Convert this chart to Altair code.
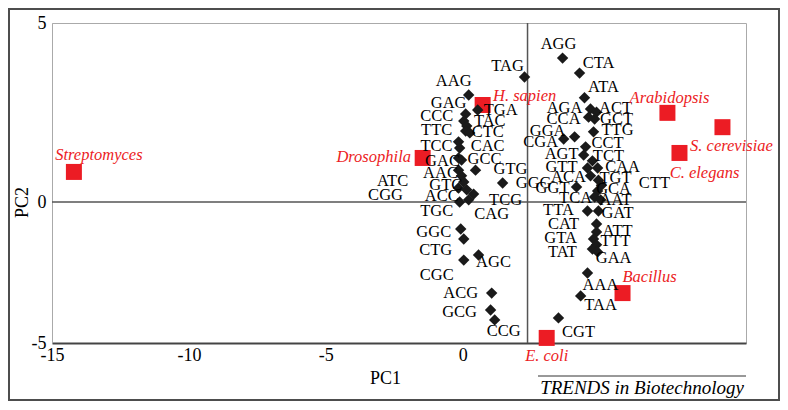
import altair as alt
import pandas as pd

# ---------------- data ----------------
codons = ["AAG", "TAG", "GAG", "TGA", "CCC", "TAC", "TTC", "CTC", "CAC", "TCC",
          "GCC", "GAC", "GTG", "AAC", "ATC", "GTC", "GGG", "CGG", "ACC", "TCG",
          "TGC", "CAG", "GGC", "CTG", "AGC", "CGC", "ACG", "GCG", "CCG",
          "AGG", "CTA", "ATA", "AGA", "ACT", "CCA", "GCT", "GGA", "TTG", "CGA",
          "CCT", "AGT", "TCT", "GTT", "CAA", "ACA", "TGT", "CTT", "GGT", "GCA",
          "TCA", "AAT", "TTA", "GAT", "CAT", "ATT", "GTA", "TTT", "TAT", "GAA",
          "AAA", "TAA", "CGT"]
pc1 = [0.22, 2.26, 0.11, 0.55, 0.04, 0.15, 0.11, 0.26, -0.11, -0.15,
       -0.04, -0.15, 0.47, -0.15, -0.04, 0.04, 1.46, -0.15, 0.15, 0.40,
       -0.11, 0.22, -0.07, 0.04, 0.58, 0.04, 1.06, 1.02, 1.17,
       3.65, 4.27, 4.45, 4.67, 4.89, 4.60, 4.82, 4.09, 4.78, 3.69,
       4.49, 4.42, 4.74, 4.56, 4.93, 4.67, 4.96, 5.07, 4.16, 4.93,
       4.82, 5.04, 4.56, 4.96, 4.89, 4.89, 4.78, 4.89, 4.74, 4.93,
       4.56, 4.31, 3.50]
pc2 = [2.99, 3.49, 2.46, 2.57, 2.26, 2.12, 1.98, 1.93, 1.51, 1.68,
       1.17, 1.23, 0.89, 0.89, 0.73, 0.56, 0.53, 0.39, 0.34, 0.22,
       0.00, 0.06, -0.96, -1.31, -1.88, -2.06, -3.23, -3.83, -4.18,
       4.02, 3.60, 2.91, 2.60, 2.51, 2.37, 2.32, 1.82, 1.96, 1.76,
       1.54, 1.31, 1.15, 0.95, 0.95, 0.73, 0.61, 0.47, 0.42, 0.31,
       0.14, 0.06, -0.32, -0.32, -0.78, -1.06, -1.31, -1.52, -1.67, -1.77,
       -2.52, -3.33, -4.11]
# label offsets from each marker (pixels)
lab_dx = [-15, -17, -17, 23, -27, 23, -29, 18, 28, -22,
          23, -16, 35, -18, -69, -18, 31, -73, -25, 32,
          -23, 23, -27, -28, 15, -27, -31, -31, 9,
          -4, 19, 19, -26, 19, -25, 22, -27, 24, -23,
          22, -22, 16, -26, 25, -22, 17, 53, -24, 16,
          -19, 15, -29, 19, -33, 21, -33, 19, -30, 16,
          13, 20, 20]
lab_dy = [-14, -11, -11, 0, -5, -5, -1, -1, -2, 4,
          -1, 3, -1, 3, 5, 3, 0, 7, 6, 6,
          9, 14, 3, 11, 7, 15, 0, 2, 11,
          -14, -10, -11, -1, -4, 2, 0, -6, -2, 3,
          -4, -1, -5, -1, -1, 1, -2, -2, 1, -2,
          1, 0, -1, 2, 0, -1, -1, -4, 3, 6,
          12, 9, 14]

species = ["Streptomyces", "Drosophila", "H. sapien", "Arabidopsis",
           "S. cerevisiae", "C. elegans", "Bacillus", "E. coli"]
sp_pc1 = [-14.20, -1.46, 0.73, 7.48, 9.49, 7.92, 5.84, 3.07]
sp_pc2 = [0.84, 1.23, 2.71, 2.49, 2.09, 1.37, -3.23, -4.82]
sp_dx = [25, -49, 42, 2, 9, 25, 27, 0]
sp_dy = [-17, -1, -9, -15, 19, 20, -16, 18]

x_ticks = [-15, -10, -5, 0]
y_ticks = [-5, 0, 5]
divider_pc1 = 2.37

# ---------------- scales / layout ----------------
W, H = 694, 320
X_DOMAIN = [-15, 10.35]
Y_DOMAIN = [-5, 0, 5]
Y_RANGE = [320, 179, 0]
FONT = "Liberation Serif, Times New Roman, Times, serif"
RED = "#ec1c24"


def x_px(v):
    return (v - X_DOMAIN[0]) / (X_DOMAIN[1] - X_DOMAIN[0]) * W


def x_val(p):
    return X_DOMAIN[0] + p / W * (X_DOMAIN[1] - X_DOMAIN[0])


def y_px(v):
    if v >= 0:
        return Y_RANGE[1] - v / 5 * (Y_RANGE[1] - Y_RANGE[2])
    return Y_RANGE[1] + (-v) / 5 * (Y_RANGE[0] - Y_RANGE[1])


def y_val(p):
    if p <= Y_RANGE[1]:
        return (Y_RANGE[1] - p) / (Y_RANGE[1] - Y_RANGE[2]) * 5
    return -(p - Y_RANGE[1]) / (Y_RANGE[0] - Y_RANGE[1]) * 5


cod = pd.DataFrame({"name": codons, "PC1": pc1, "PC2": pc2})
cod["lx"] = [x_val(x_px(a) + d) for a, d in zip(pc1, lab_dx)]
cod["ly"] = [y_val(y_px(b) + d) for b, d in zip(pc2, lab_dy)]
sp = pd.DataFrame({"name": species, "PC1": sp_pc1, "PC2": sp_pc2})
sp["lx"] = [x_val(x_px(a) + d) for a, d in zip(sp_pc1, sp_dx)]
sp["ly"] = [y_val(y_px(b) + d) for b, d in zip(sp_pc2, sp_dy)]

xs = alt.Scale(domain=X_DOMAIN, nice=False, zero=False)
ys = alt.Scale(domain=Y_DOMAIN, range=Y_RANGE, nice=False, zero=False)
xaxis = alt.Axis(values=x_ticks, title="PC1", grid=False, ticks=False,
                 labelExpr="'' + datum.value", labelFlush=False,
                 domainColor="#444444", domainWidth=2, labelPadding=3,
                 labelFont=FONT, labelFontSize=18, labelColor="black",
                 titleFont=FONT, titleFontSize=18, titleFontWeight="normal",
                 titleColor="black", titleX=333, titleY=35,
                 titleBaseline="middle", titleAlign="center")
yaxis = alt.Axis(values=y_ticks, title="PC2", grid=False, ticks=False,
                 labelExpr="'' + datum.value", labelFlush=False,
                 domainColor="#aaaaaa", domainWidth=1, labelPadding=6,
                 labelFont=FONT, labelFontSize=18, labelColor="black",
                 titleFont=FONT, titleFontSize=18, titleFontWeight="normal",
                 titleColor="black", titleX=-30, titleY=179, titleAngle=270,
                 titleBaseline="middle", titleAlign="center")


def X(f):
    return alt.X(f, type="quantitative", scale=xs, axis=xaxis)


def Y(f):
    return alt.Y(f, type="quantitative", scale=ys, axis=yaxis)


frame = alt.Chart(pd.DataFrame({"a": [0]})).mark_rect(
    fillOpacity=0, stroke="#4d4d4d", strokeWidth=2
).encode(x=alt.value(-43), x2=alt.value(727), y=alt.value(-14), y2=alt.value(377))

hline = alt.Chart(pd.DataFrame({"PC2": [0]})).mark_rule(
    color="#555555", strokeWidth=1.5).encode(y=Y("PC2"))
vline = alt.Chart(pd.DataFrame({"PC1": [divider_pc1]})).mark_rule(
    color="#555555", strokeWidth=1.5).encode(x=X("PC1"))

squares = alt.Chart(sp).mark_point(
    shape="square", filled=True, size=256, opacity=1, color=RED
).encode(x=X("PC1"), y=Y("PC2"))

diamonds = alt.Chart(cod).mark_point(
    shape="diamond", filled=True, size=130, opacity=1, color="#1a1a1a"
).encode(x=X("PC1"), y=Y("PC2"))

cod_text = alt.Chart(cod).mark_text(
    font=FONT, fontSize=16.5, color="black", align="center", baseline="middle"
).encode(x=X("lx"), y=Y("ly"), text="name:N")

sp_text = alt.Chart(sp).mark_text(
    font=FONT, fontSize=16.5, fontStyle="italic", color=RED,
    align="center", baseline="middle"
).encode(x=X("lx"), y=Y("ly"), text="name:N")

credit_line = alt.Chart(pd.DataFrame({"a": [0]})).mark_rule(
    color="#333333", strokeWidth=1
).encode(x=alt.value(486), x2=alt.value(694), y=alt.value(353))
credit = alt.Chart(pd.DataFrame({"t": ["TRENDS in Biotechnology"]})).mark_text(
    font=FONT, fontSize=19, fontStyle="italic", color="black",
    align="center", baseline="middle"
).encode(x=alt.value(590), y=alt.value(365), text="t:N")

chart = alt.layer(
    frame, hline, vline, squares, diamonds, cod_text, sp_text, credit_line, credit
).properties(
    width=W, height=H,
    padding={"left": 44, "top": 15, "right": 34, "bottom": 59},
    autosize=alt.AutoSizeParams(type="none"),
    background="white",
).configure_view(stroke="#aaaaaa", strokeWidth=1)

chart.save("out.html", embed_options={"renderer": "svg", "actions": False})
